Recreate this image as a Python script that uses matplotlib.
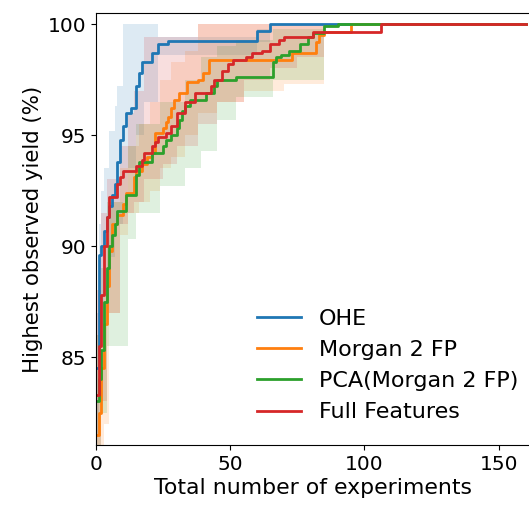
import numpy as np
import matplotlib
matplotlib.use('Agg')
import matplotlib.pyplot as plt

# best observed yield vs number of experiments (change points, steps-post)
ohe_x = [0, 1, 2, 3, 4, 5, 6, 7, 8, 9, 10, 11, 13, 15, 16, 17, 21, 23, 27, 60, 65, 160]
ohe_y = [84.5, 89.6, 90.0, 90.7, 91.3, 91.8, 92.3, 92.8, 93.8, 94.8, 95.4, 96.0, 96.2, 97.2,
         97.8, 98.3, 98.7, 99.1, 99.25, 99.7, 100, 100]

morgan_x = [0, 1, 2, 3, 4, 5, 6, 8, 10, 11, 14, 15, 17, 19, 21, 22, 25, 26, 27, 28, 29, 31,
            34, 38, 40, 42, 73, 82, 83, 85, 95, 160]
morgan_y = [81.5, 82.5, 84.5, 86.5, 88.2, 89.8, 91.0, 91.4, 91.9, 92.4, 93.1, 93.4, 93.7, 94.0,
            94.2, 95.1, 95.3, 95.6, 95.8, 96.2, 96.6, 96.9, 97.4, 97.5, 97.8, 98.4, 98.7, 99.2,
            99.5, 99.65, 100, 100]

pca_x = [0, 1, 2, 3, 4, 5, 6, 7, 8, 11, 15, 16, 21, 25, 26, 28, 30, 31, 32, 33, 35, 41, 44,
         45, 52, 66, 67, 69, 72, 76, 79, 81, 85, 90, 160]
pca_y = [83.0, 84.0, 85.3, 87.5, 89.0, 90.0, 90.5, 91.0, 91.6, 92.3, 93.2, 93.8, 94.2, 94.5,
         94.8, 95.0, 95.3, 95.7, 96.1, 96.3, 96.6, 96.9, 97.2, 97.5, 97.6, 98.3, 98.5, 98.6,
         98.8, 99.1, 99.4, 99.6, 99.9, 100, 100]

full_x = [0, 1, 2, 3, 4, 5, 8, 9, 10, 15, 17, 18, 21, 22, 23, 26, 28, 30, 33, 37, 43, 44, 47,
          49, 51, 56, 58, 62, 65, 68, 70, 81, 106, 160]
full_y = [83.3, 85.5, 87.8, 90.0, 91.3, 92.2, 92.8, 93.1, 93.4, 93.6, 93.9, 94.2, 94.5, 94.7,
          94.9, 95.1, 95.4, 96.0, 96.5, 96.9, 97.2, 97.5, 97.9, 98.2, 98.4, 98.5, 98.7, 98.8,
          99.1, 99.3, 99.4, 99.65, 100, 100]

# spread across runs
ohe_band_x = [0, 1, 2, 3, 5, 7, 8, 10, 12, 15, 18, 23, 60, 65]
ohe_band_lo = [81.5, 84.5, 86.5, 88.0, 89.5, 90.5, 91.0, 92.0, 93.5, 95.0, 96.5, 98.6, 99.2, 100]
ohe_band_hi = [87.0, 91.0, 92.5, 93.5, 95.2, 96.3, 97.2, 100, 100, 100, 100, 99.4, 99.8, 100]

morgan_band_x = [0, 3, 5, 9, 12, 16, 20, 24, 28, 33, 38, 45, 55, 70, 85]
morgan_band_lo = [80.0, 82.0, 87.0, 90.5, 91.5, 92.0, 92.5, 93.5, 94.0, 95.0, 96.0, 96.5, 97.0, 97.3, 100]
morgan_band_hi = [86.0, 90.0, 92.0, 93.5, 94.5, 95.5, 96.5, 97.5, 98.3, 98.8, 100, 100, 100, 100, 100]

pca_band_x = [0, 2, 4, 12, 15, 24, 33, 39, 45, 52, 66, 85]
pca_band_lo = [81.0, 82.5, 85.5, 90.3, 91.5, 92.7, 93.5, 94.3, 95.7, 96.7, 97.5, 100]
pca_band_hi = [86.0, 89.0, 92.0, 94.5, 95.5, 96.5, 97.5, 98.5, 99.0, 99.3, 99.8, 100]

full_band_x = [0, 2, 4, 9, 12, 14, 18, 25, 30, 38, 45, 55, 65, 75, 85]
full_band_lo = [80.5, 83.0, 87.0, 91.0, 91.5, 92.0, 93.0, 93.7, 94.5, 95.5, 96.5, 97.5, 98.0, 98.5, 100]
full_band_hi = [88.0, 91.5, 93.0, 94.5, 96.0, 97.0, 99.4, 99.4, 99.4, 100, 100, 100, 100, 100, 100]

labels = ['OHE', 'Morgan 2 FP', 'PCA(Morgan 2 FP)', 'Full Features']
colors = ['#1f77b4', '#ff7f0e', '#2ca02c', '#d62728']

fig = plt.figure(figsize=(5.29, 5.07), dpi=100)
ax = fig.add_axes([96/529, 62/507, 1 - 96/529, 432/507])

series = [(ohe_x, ohe_y), (morgan_x, morgan_y), (pca_x, pca_y), (full_x, full_y)]
bands = [(ohe_band_x, ohe_band_lo, ohe_band_hi),
         (morgan_band_x, morgan_band_lo, morgan_band_hi),
         (pca_band_x, pca_band_lo, pca_band_hi),
         (full_band_x, full_band_lo, full_band_hi)]

for (bx, lo, hi), c in zip(bands, colors):
    ax.fill_between(bx, lo, hi, step='post', color=c, alpha=0.15, lw=0)

for (x, y), c, lab in zip(series, colors, labels):
    ax.plot(x, y, drawstyle='steps-post', color=c, lw=2, label=lab)

ax.set_xlim(0, 161.3)
ax.set_ylim(81.04, 100.5)
ax.set_xticks([0, 50, 100, 150])
ax.set_yticks([85, 90, 95, 100])
ax.spines['right'].set_visible(False)
ax.tick_params(labelsize=14.5)
ax.set_xlabel('Total number of experiments', fontsize=15.8, labelpad=3)
ax.set_ylabel('Highest observed yield (%)', fontsize=15.3, labelpad=3)

ax.legend(loc='upper left', bbox_to_anchor=(257/529, 1 - 309/507), bbox_transform=fig.transFigure,
          frameon=False, fontsize=16, borderaxespad=0, borderpad=0,
          handlelength=2.0, handletextpad=0.8, labelspacing=0.5)

plt.savefig('out.png', dpi=100)
